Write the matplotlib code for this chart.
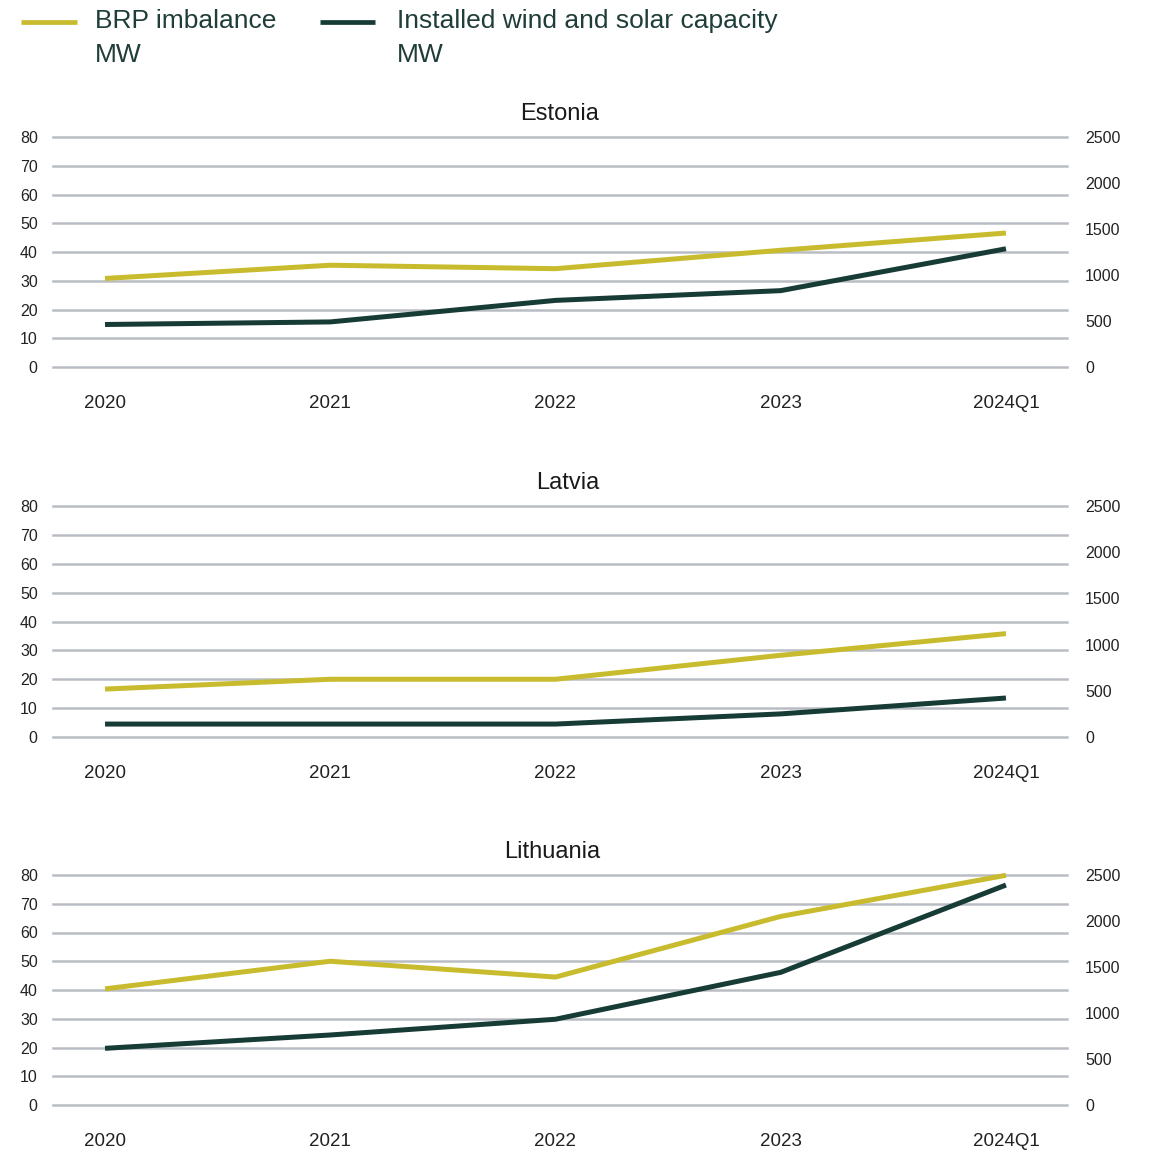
import matplotlib
matplotlib.use("Agg")
from matplotlib import pyplot as plt
from matplotlib.lines import Line2D

plt.rcParams['font.family'] = ['Liberation Sans', 'DejaVu Sans']

periods = ['2020', '2021', '2022', '2023', '2024Q1']
countries = ['Estonia', 'Latvia', 'Lithuania']

# BRP imbalance, MW (left axis)
imbalance_ee = [30.8, 35.4, 34.2, 40.6, 46.6]
imbalance_lv = [16.6, 20.0, 20.0, 28.3, 35.8]
imbalance_lt = [40.4, 50.0, 44.5, 65.6, 79.9]

# installed wind and solar capacity, MW (right axis)
capacity_ee = [462, 490, 724, 830, 1285]
capacity_lv = [140, 140, 140, 250, 422]
capacity_lt = [616, 761, 932, 1442, 2391]

imbalance = [imbalance_ee, imbalance_lv, imbalance_lt]
capacity = [capacity_ee, capacity_lv, capacity_lt]

YELLOW = '#c8bc2e'
DARK = '#173c36'
GRID = '#b9bdc3'
TEXT = '#222222'
LEGEND_TEXT = '#1f3d39'

W, H = 1152, 1150
fig = plt.figure(figsize=(W / 100, H / 100), dpi=100)

# panel rectangles in pixels: (top, bottom)
panels_px = [(137, 367), (506, 737), (875, 1105)]
left_px, right_px = 53, 1067
title_x = [0.5, 0.508, 0.492]

x = list(range(len(periods)))

for i, (top, bottom) in enumerate(panels_px):
    ax = fig.add_axes([left_px / W, 1 - bottom / H,
                       (right_px - left_px) / W, (bottom - top) / H])
    ax.set_xlim(-0.231, 4.271)
    ax.set_ylim(0, 80)
    ax.set_yticks(range(0, 81, 10))
    ax.set_xticks(x)
    ax.set_xticklabels(periods)
    ax.yaxis.grid(True, color=GRID, linewidth=1.8)
    for gl in ax.get_ygridlines():
        gl.set_clip_on(False)
    ax.set_axisbelow(True)
    for s in ax.spines.values():
        s.set_visible(False)
    ax.tick_params(axis='y', length=0, pad=11, labelsize=11.5, labelcolor=TEXT)
    ax.tick_params(axis='x', length=0, pad=20, labelsize=13.5, labelcolor=TEXT)
    ax.plot(x, imbalance[i], color=YELLOW, linewidth=3.6, clip_on=False,
            solid_capstyle='butt', solid_joinstyle='round')
    ax.set_title(countries[i], fontsize=17, color='#1a1a1a', pad=12.5,
                 x=title_x[i])

    ax2 = ax.twinx()
    ax2.set_ylim(0, 2500)
    ax2.set_yticks(range(0, 2501, 500))
    for s in ax2.spines.values():
        s.set_visible(False)
    ax2.tick_params(axis='y', length=0, pad=13, labelsize=11.5, labelcolor=TEXT)
    ax2.plot(x, capacity[i], color=DARK, linewidth=3.6, clip_on=False,
             solid_capstyle='butt', solid_joinstyle='round')

# legend across the top
legend_y = 1 - 21.5 / H
fig.add_artist(Line2D([21 / W, 77 / W], [legend_y, legend_y], color=YELLOW,
                      linewidth=3.4, solid_capstyle='butt'))
fig.add_artist(Line2D([320 / W, 375 / W], [legend_y, legend_y], color=DARK,
                      linewidth=3.4, solid_capstyle='butt'))
fig.text(95 / W, 1 - 9 / H, 'BRP imbalance\nMW', fontsize=19,
         color=LEGEND_TEXT, va='top', ha='left', linespacing=1.5)
fig.text(397 / W, 1 - 9 / H, 'Installed wind and solar capacity\nMW',
         fontsize=19, color=LEGEND_TEXT, va='top', ha='left', linespacing=1.5)

fig.savefig('out.png', dpi=100, facecolor='white')
